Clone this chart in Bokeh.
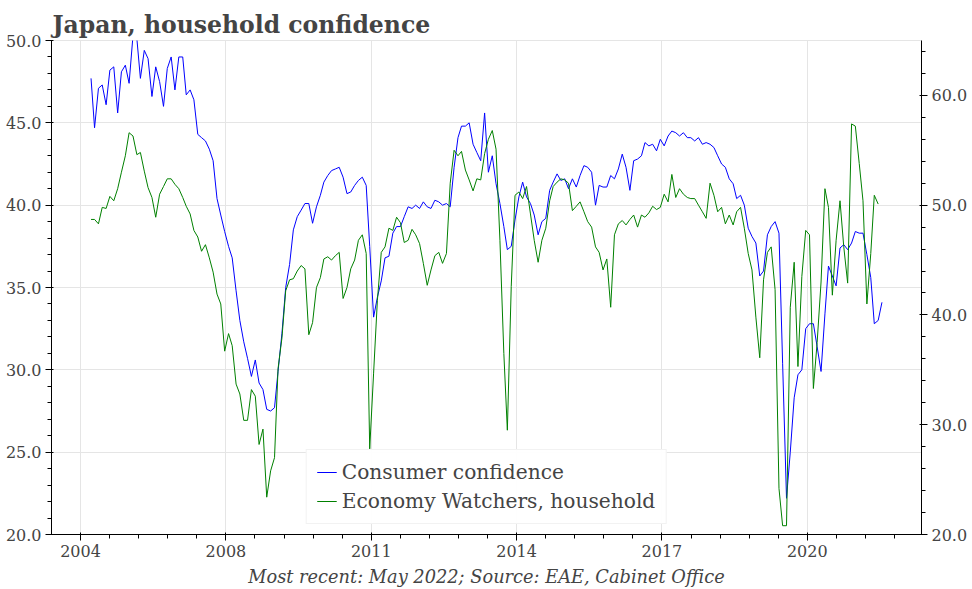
import numpy as np
import pandas as pd
from bokeh.plotting import figure
from bokeh.models import (Range1d, LinearAxis, NumeralTickFormatter,
                          DatetimeTickFormatter, ColumnDataSource, BasicTicker)
from bokeh.embed import file_html
from bokeh.resources import INLINE

TITLE = "Japan, household confidence"
FOOTER = "Most recent: May 2022; Source: EAE, Cabinet Office"
SERIES_NAMES = ["Consumer confidence", "Economy Watchers, household"]
FIRST_MONTH = "2005-02-01"

# Consumer confidence index (left axis), monthly from Feb 2005 to May 2022
consumer_confidence = [
    47.7, 44.7, 47.1, 47.3, 46.1, 48.2, 48.4, 45.6, 48.1, 48.5,
    47.4, 50.3, 50.1, 47.7, 49.4, 48.9, 46.6, 48.4, 47.5, 46.0,
    48.3, 49.0, 47.0, 49.0, 49.0, 46.7, 47.0, 46.4, 44.3, 44.1,
    43.9, 43.4, 42.7, 40.4, 39.4, 38.4, 37.5, 36.8, 34.8, 33.0,
    31.7, 30.7, 29.6, 30.6, 29.2, 28.8, 27.6, 27.5, 27.7, 29.9,
    32.2, 35.0, 36.4, 38.5, 39.3, 39.7, 40.1, 40.1, 38.9, 39.9,
    40.6, 41.4, 41.8, 42.1, 42.2, 42.3, 41.7, 40.7, 40.8, 41.2,
    41.5, 41.7, 41.2, 37.5, 33.2, 34.4, 35.4, 36.8, 36.9, 38.3,
    38.7, 38.7, 39.3, 39.9, 39.8, 40.0, 39.8, 40.2, 39.9, 39.8,
    40.3, 40.2, 40.0, 40.1, 39.9, 42.3, 44.1, 44.8, 44.8, 45.0,
    43.7, 43.2, 42.7, 45.6, 42.0, 43.0, 41.3, 40.1, 38.7, 37.3,
    37.5, 39.1, 40.5, 41.4, 40.5, 40.1, 39.4, 38.2, 39.0, 39.2,
    40.9, 41.4, 41.9, 41.5, 41.6, 41.0, 41.6, 41.1, 41.8, 42.4,
    42.3, 42.0, 40.0, 41.2, 41.1, 41.1, 41.8, 41.6, 42.2, 43.1,
    42.3, 40.9, 42.7, 42.8, 43.0, 43.8, 43.6, 43.7, 43.3, 44.0,
    43.6, 44.2, 44.5, 44.4, 44.2, 44.4, 44.1, 44.1, 43.9, 44.1,
    43.7, 43.8, 43.7, 43.5, 43.0, 42.5, 42.3, 41.6, 41.3, 40.4,
    40.6, 40.0, 38.6, 38.1, 37.7, 35.7, 36.0, 38.2, 38.7, 39.0,
    38.3, 30.4, 22.2, 25.0, 28.3, 29.7, 30.0, 32.5, 32.8, 32.8,
    31.4, 29.9, 33.4, 36.3, 35.7, 35.1, 37.4, 37.6, 37.3, 37.7,
    38.4, 38.3, 38.3, 37.0, 35.6, 32.8, 33.0, 34.1,
]

# Economy Watchers survey, household (right axis), Feb 2005 to Apr 2022
economy_watchers = [
    48.7, 48.7, 48.3, 49.8, 49.7, 50.8, 50.4, 51.5, 53.0, 54.5,
    56.6, 56.3, 54.6, 54.8, 53.1, 51.6, 50.7, 48.9, 51.0, 51.7,
    52.4, 52.4, 51.9, 51.5, 50.7, 49.9, 49.2, 47.7, 47.1, 45.8,
    46.4, 45.2, 43.9, 41.9, 41.0, 36.7, 38.3, 37.2, 33.7, 32.8,
    30.4, 30.4, 33.2, 32.6, 28.2, 29.6, 23.4, 25.8, 27.0, 35.1,
    37.9, 42.2, 43.2, 43.3, 44.0, 44.5, 44.2, 38.2, 39.3, 42.5,
    43.4, 45.1, 45.3, 45.0, 45.4, 45.7, 41.5, 42.5, 44.2, 45.0,
    46.8, 47.3, 45.6, 27.8, 34.7, 41.3, 45.7, 46.2, 47.9, 47.7,
    48.9, 48.4, 46.6, 46.8, 47.8, 47.3, 46.5, 44.7, 42.7, 44.1,
    45.4, 45.7, 44.7, 45.6, 52.0, 55.0, 54.5, 54.9, 53.2, 52.3,
    51.3, 52.4, 52.3, 54.7, 56.0, 56.8, 55.1, 46.8, 36.5, 29.5,
    42.6, 50.9, 51.2, 50.6, 51.7, 49.2, 46.8, 44.8, 46.8, 47.9,
    50.4, 51.7, 52.1, 52.4, 52.3, 52.0, 49.5, 49.9, 50.3, 49.4,
    48.5, 48.0, 46.2, 45.7, 44.1, 45.1, 40.7, 47.3, 48.3, 48.6,
    48.2, 48.7, 49.1, 48.0, 49.1, 48.9, 49.3, 49.9, 49.6, 49.8,
    51.0, 50.3, 52.8, 50.7, 51.5, 51.0, 50.7, 50.6, 50.6, 50.0,
    49.4, 48.8, 52.0, 50.9, 49.4, 49.8, 48.3, 49.1, 48.2, 49.4,
    49.8, 47.9, 45.6, 44.1, 39.8, 36.1, 43.2, 45.7, 46.2, 42.3,
    24.2, 20.8, 20.8, 40.7, 44.8, 35.3, 43.5, 47.7, 47.3, 33.3,
    37.5, 43.0, 51.5, 49.8, 41.8, 46.8, 50.4, 46.2, 42.9, 57.4,
    57.2, 53.8, 50.4, 41.0, 45.6, 50.9, 50.1,
]

LEFT_RANGE = (20, 50)
RIGHT_RANGE = (20, 65)


def month_ms(start, n):
    d = pd.date_range(start, periods=n, freq="MS")
    return d.values.astype("datetime64[ms]").astype("int64").astype(float)


cc_x = month_ms(FIRST_MONTH, len(consumer_confidence))
ew_x = month_ms(FIRST_MONTH, len(economy_watchers))

cc_src = ColumnDataSource(dict(x=cc_x, y=consumer_confidence))
ew_src = ColumnDataSource(dict(x=ew_x, y=economy_watchers))

x0, x1 = cc_x.min(), cc_x.max()
pad = 0.05 * (x1 - x0)

FONT = "DejaVu Serif"
TXT = "#444444"

p = figure(frame_width=870, frame_height=494,
           output_backend="svg", toolbar_location=None,
           x_range=Range1d(x0 - pad, x1 + pad),
           y_range=Range1d(*LEFT_RANGE),
           title=TITLE,
           min_border_left=51, min_border_right=44,
           min_border_top=40, min_border_bottom=50)

p.extra_y_ranges = {"right": Range1d(*RIGHT_RANGE)}

p.line("x", "y", source=cc_src, color="blue", line_width=1,
       legend_label=SERIES_NAMES[0])
p.line("x", "y", source=ew_src, color="green", line_width=1,
       y_range_name="right", legend_label=SERIES_NAMES[1])

right_axis = LinearAxis(y_range_name="right", ticker=BasicTicker())
p.add_layout(right_axis, "right")

p.title.text_font = FONT
p.title.text_font_size = "23.5px"
p.title.text_font_style = "bold"
p.title.text_color = TXT
p.title.standoff = 3
p.title.offset = 1

p.xaxis.formatter = DatetimeTickFormatter(years="%Y", months="%Y", days="%Y")
p.xaxis.axis_label = FOOTER
p.xaxis.axis_label_text_font = FONT
p.xaxis.axis_label_text_font_size = "17.8px"
p.xaxis.axis_label_text_font_style = "italic"
p.xaxis.axis_label_text_color = TXT
p.xaxis.axis_label_standoff = 6

for ax in [p.xaxis[0], p.yaxis[0], right_axis]:
    ax.major_label_text_font = FONT
    ax.major_label_text_font_size = "16px"
    ax.major_label_text_color = TXT
    ax.major_label_standoff = 4
    ax.axis_line_color = "black"
    ax.major_tick_line_color = "black"
    ax.minor_tick_line_color = "black"

for ax in [p.yaxis[0], right_axis]:
    ax.formatter = NumeralTickFormatter(format="0.0")

p.xgrid.grid_line_color = "#e5e5e5"
p.ygrid.grid_line_color = "#e5e5e5"

p.legend.location = "bottom_center"
p.legend.label_text_font = FONT
p.legend.label_text_font_size = "20.2px"
p.legend.label_text_color = TXT
p.legend.border_line_color = "#e5e5e5"
p.legend.spacing = 5

open("out.html", "w").write(file_html(p, INLINE))
